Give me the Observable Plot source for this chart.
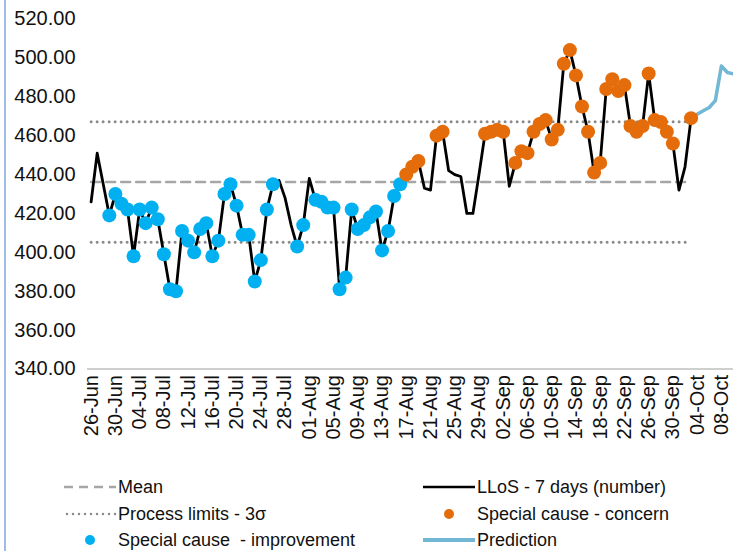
<!DOCTYPE html>
<html>
<head>
<meta charset="utf-8">
<script src="https://cdn.jsdelivr.net/npm/d3@7"></script>
<script src="https://cdn.jsdelivr.net/npm/@observablehq/plot@0.6"></script>
<style>
  body { margin: 0; background: #fff; }
  #wrap { position: relative; width: 733px; height: 551px; overflow: hidden;
          font-family: "Liberation Sans", Arial, sans-serif; background: #fff; }
  #border { position: absolute; left: 4px; top: 0; width: 2px; height: 551px; background: #9dbde6; }
  #chart { position: absolute; left: 0; top: 0; }
  .leg { position: absolute; font-size: 18px; line-height: 20px; color: #111; white-space: pre; }
  .icon { position: absolute; }
</style>
</head>
<body>
<div id="wrap">
  <div id="border"></div>
  <div id="chart"></div>
  <div id="legend"></div>
</div>
<script>
// ---- data ----
const startDate = "2021-06-26";
// LLoS - 7 days (number), one value per day from 26-Jun
const llos = [
  426, 451, 435, 419, 430, 425, 422, 398, 422, 415,
  423, 417, 399, 381, 380, 411, 406, 400, 412, 415,
  398, 406, 430, 435, 424, 409, 409, 385, 396, 422,
  435, 437, 428, 414, 403, 414, 438, 427, 426, 423,
  423, 381, 387, 422, 412, 414, 418, 421, 401, 411,
  429, 435, 440, 444, 447, 433, 432, 460, 462, 442,
  440, 439, 420, 420, 440, 461, 462, 463, 462, 434,
  446, 452, 451, 462, 466, 468, 458, 463, 497, 504,
  491, 475, 462, 441, 446, 484, 489, 483, 486, 465,
  462, 465, 492, 468, 467, 462, 456, 432, 444, 469
];
// special cause flag per day: "I" improvement, "C" concern, "" none
const cause = [
  "", "", "", "I", "I", "I", "I", "I", "I", "I",
  "I", "I", "I", "I", "I", "I", "I", "I", "I", "I",
  "I", "I", "I", "I", "I", "I", "I", "I", "I", "I",
  "I", "", "", "", "I", "I", "", "I", "I", "I",
  "I", "I", "I", "I", "I", "I", "I", "I", "I", "I",
  "I", "I", "C", "C", "C", "", "", "C", "C", "",
  "", "", "", "", "", "C", "C", "C", "C", "",
  "C", "C", "C", "C", "C", "C", "C", "C", "C", "C",
  "C", "C", "C", "C", "C", "C", "C", "C", "C", "C",
  "C", "C", "C", "C", "C", "C", "C", "", "", "C"
];
// prediction, starting at the last observed day (day index 99)
const predictionStart = 99;
const prediction = [469, 471, 472.8, 474.5, 478, 495.8, 492.5, 491.8];
const meanValue = 436.2;
const upperLimit = 467.2;
const lowerLimit = 405.2;
const yTicks = [340, 360, 380, 400, 420, 440, 460, 480, 500, 520];
const tickLabels = ["26-Jun","30-Jun","04-Jul","08-Jul","12-Jul","16-Jul","20-Jul","24-Jul","28-Jul",
  "01-Aug","05-Aug","09-Aug","13-Aug","17-Aug","21-Aug","25-Aug","29-Aug",
  "02-Sep","06-Sep","10-Sep","14-Sep","18-Sep","22-Sep","26-Sep","30-Sep","04-Oct","08-Oct"];

// ---- build ----
const t0 = Date.parse(startDate + "T00:00:00Z");
const day = i => new Date(t0 + i * 864e5);
const series = llos.map((v, i) => ({date: day(i), v, cause: cause[i]}));
const pred = prediction.map((v, i) => ({date: day(predictionStart + i), v}));
const lastDay = llos.length - 1;
const hline = v => [{date: day(0), v}, {date: day(lastDay), v}];
const tickDates = tickLabels.map((_, i) => day(i * 4));
const labelOf = new Map(tickDates.map((d, i) => [+d, tickLabels[i]]));

const plot = Plot.plot({
  width: 733,
  height: 455,
  marginLeft: 87,
  marginRight: 0,
  marginTop: 18.5,
  marginBottom: 86.5,
  style: {fontFamily: "Liberation Sans, Arial, sans-serif", fontSize: "20px", color: "#111", background: "transparent"},
  x: {type: "utc", domain: [day(-0.6), day(106)]},
  y: {domain: [340, 520]},
  marks: [
    Plot.axisY({ticks: yTicks, tickFormat: d => d.toFixed(2), tickSize: 0, tickPadding: 12, fontSize: 20, label: null}),
    Plot.axisX({ticks: tickDates, tickFormat: d => labelOf.get(+d), tickSize: 0, tickPadding: 6, tickRotate: -90, fontSize: 20, label: null}),
    Plot.ruleY([340], {stroke: "#bfbfbf", strokeWidth: 1.5}),
    Plot.line(hline(upperLimit), {x: "date", y: "v", stroke: "#8a8a8a", strokeWidth: 3, strokeDasharray: "0,6", strokeLinecap: "round"}),
    Plot.line(hline(lowerLimit), {x: "date", y: "v", stroke: "#8a8a8a", strokeWidth: 3, strokeDasharray: "0,6", strokeLinecap: "round"}),
    Plot.line(hline(meanValue), {x: "date", y: "v", stroke: "#a6a6a6", strokeWidth: 2.5, strokeDasharray: "9,6"}),
    Plot.line(series, {x: "date", y: "v", stroke: "#000", strokeWidth: 2.8}),
    Plot.line(pred, {x: "date", y: "v", stroke: "#72b7d3", strokeWidth: 3.5}),
    Plot.dot(series.filter(d => d.cause === "I"), {x: "date", y: "v", r: 7, fill: "#00b0f0"}),
    Plot.dot(series.filter(d => d.cause === "C"), {x: "date", y: "v", r: 7, fill: "#e46c0a"})
  ]
});
document.getElementById("chart").appendChild(plot);

// ---- legend ----
const legendItems = [
  {text: "Mean", x: 118, y: 487, icon: "dash"},
  {text: "Process limits - 3σ", x: 118, y: 514, icon: "dot"},
  {text: "Special cause  - improvement", x: 118, y: 540, icon: "blue"},
  {text: "LLoS - 7 days (number)", x: 477, y: 487, icon: "line"},
  {text: "Special cause - concern", x: 477, y: 514, icon: "orange"},
  {text: "Prediction", x: 477, y: 540, icon: "pred"}
];
const legend = document.getElementById("legend");
const ns = "http://www.w3.org/2000/svg";
for (const it of legendItems) {
  const svg = document.createElementNS(ns, "svg");
  svg.setAttribute("class", "icon");
  svg.setAttribute("width", 60);
  svg.setAttribute("height", 20);
  svg.style.left = (it.x - 58) + "px";
  svg.style.top = (it.y - 10) + "px";
  let el;
  if (it.icon === "blue" || it.icon === "orange") {
    el = document.createElementNS(ns, "circle");
    el.setAttribute("cx", 30); el.setAttribute("cy", 10); el.setAttribute("r", 5);
    el.setAttribute("fill", it.icon === "blue" ? "#00b0f0" : "#e46c0a");
  } else {
    el = document.createElementNS(ns, "line");
    el.setAttribute("x1", 4); el.setAttribute("x2", 56);
    el.setAttribute("y1", 10); el.setAttribute("y2", 10);
    if (it.icon === "dash") { el.setAttribute("stroke", "#a6a6a6"); el.setAttribute("stroke-width", 2.5); el.setAttribute("stroke-dasharray", "9,6"); }
    if (it.icon === "dot") { el.setAttribute("stroke", "#8a8a8a"); el.setAttribute("stroke-width", 2.5); el.setAttribute("stroke-dasharray", "0,6"); el.setAttribute("stroke-linecap", "round"); el.setAttribute("x1", 7); }
    if (it.icon === "line") { el.setAttribute("stroke", "#000"); el.setAttribute("stroke-width", 2.5); }
    if (it.icon === "pred") { el.setAttribute("stroke", "#72b7d3"); el.setAttribute("stroke-width", 4); }
  }
  svg.appendChild(el);
  legend.appendChild(svg);
  const span = document.createElement("span");
  span.className = "leg";
  span.textContent = it.text;
  span.style.left = it.x + "px";
  span.style.top = (it.y - 10) + "px";
  legend.appendChild(span);
}
</script>
</body>
</html>
